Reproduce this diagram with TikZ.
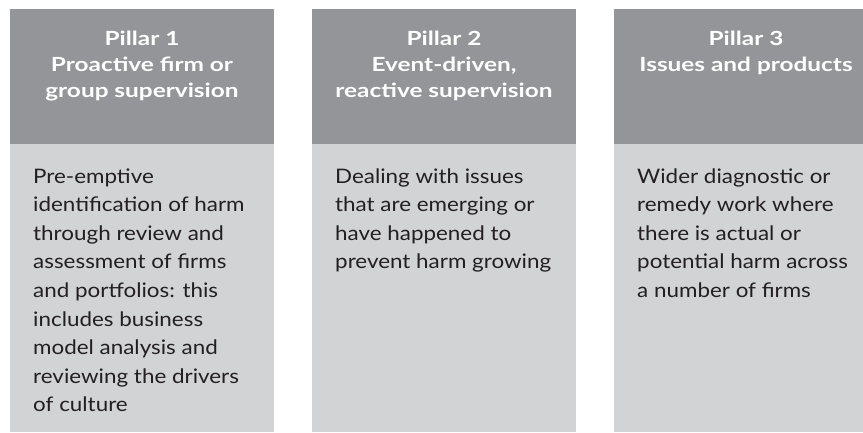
\documentclass[tikz,border=0pt]{standalone}
\usepackage{fontspec}
\setmainfont[FakeStretch=1.12]{Lato}
\newfontfamily\headfont[FakeStretch=1.25]{Lato}
\definecolor{headgray}{HTML}{939598}
\definecolor{bodygray}{HTML}{D1D3D4}
\definecolor{textdark}{HTML}{231F20}
\tikzset{
  headbox/.style={fill=headgray, draw=none},
  bodybox/.style={fill=bodygray, draw=none},
  headtext/.style={text=white, font=\headfont\fontsize{19.5}{26}\selectfont\bfseries, align=center, inner sep=0pt, anchor=base},
  bodytext/.style={text=textdark, font=\fontsize{20}{28.6}\selectfont, align=left, inner sep=0pt, anchor=base west},
}
\begin{document}
\begin{tikzpicture}[x=1pt,y=-1pt]
\useasboundingbox (0,0) rectangle (863,432);
\begin{scope}
\clip (0,0) rectangle (863,432);
\fill[headbox] (10,9) rectangle (274,144);
\fill[bodybox] (10,144) rectangle (274,432);
\fill[headbox] (312,9) rectangle (576,144);
\fill[bodybox] (312,144) rectangle (576,432);
\fill[headbox] (614,9) rectangle (878,144);
\fill[bodybox] (614,144) rectangle (878,432);
\end{scope}
\node[headtext] (t1) at (142,97) {Pillar 1\\Proactive firm or\\group supervision};
\node[headtext] (t2) at (444,97) {Pillar 2\\Event-driven,\\reactive supervision};
\node[headtext] (t3) at (746,71) {Pillar 3\\Issues and products};
\node[bodytext] (b1) at (33,411.8) {Pre-emptive\\identification of harm\\through review and\\assessment of firms\\and portfolios: this\\includes business\\model analysis and\\reviewing the drivers\\of culture};
\node[bodytext] (b2) at (335,268.8) {Dealing with issues\\that are emerging or\\have happened to\\prevent harm growing};
\node[bodytext] (b3) at (637,297.4) {Wider diagnostic or\\remedy work where\\there is actual or\\potential harm across\\a number of firms};
\end{tikzpicture}
\end{document}
